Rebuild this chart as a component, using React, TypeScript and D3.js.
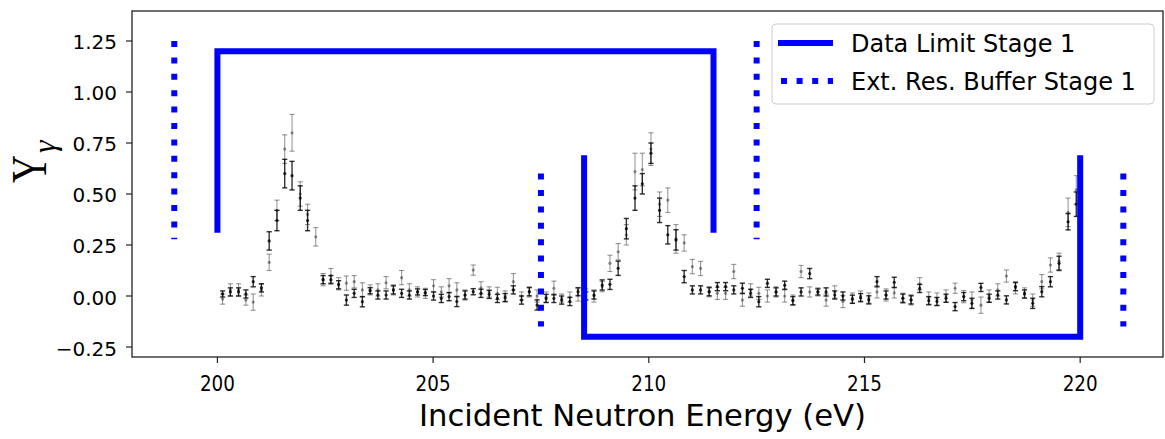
import React from 'react';
import * as d3 from 'd3';

// ---- data ----
const energies = [
  200.12, 200.30, 200.49, 200.66, 200.83, 201.02, 201.20, 201.38, 201.56, 201.73,
  201.92, 202.09, 202.28, 202.45, 202.63, 202.81, 202.99, 203.17, 203.36, 203.54,
  203.72, 203.91, 204.08, 204.27, 204.45, 204.64, 204.82, 205.01, 205.19, 205.37,
  205.55, 205.74, 205.93, 206.11, 206.30, 206.49, 206.67, 206.86, 207.05, 207.23,
  207.41, 207.62, 207.80, 207.98, 208.17, 208.36, 208.54, 208.73, 208.92, 209.10,
  209.29, 209.48, 209.68, 209.85, 210.05, 210.25, 210.44, 210.63, 210.82, 211.01,
  211.20, 211.40, 211.59, 211.78, 211.97, 212.17, 212.36, 212.55, 212.75, 212.95,
  213.15, 213.34, 213.53, 213.73, 213.92, 214.11, 214.31, 214.50, 214.72, 214.91,
  215.10, 215.29, 215.50, 215.69, 215.89, 216.08, 216.28, 216.49, 216.68, 216.89,
  217.10, 217.30, 217.49, 217.70, 217.89, 218.09, 218.29, 218.50, 218.71, 218.90,
  219.11, 219.31, 219.51, 219.72, 219.91,
];

// darker series
const yieldDark: (number | null)[] = [
  0.01, 0.02, 0.02, 0.01, 0.07, 0.04, 0.27, 0.37, 0.60, 0.59,
  0.48, 0.37, null, 0.08, 0.08, 0.055, -0.02, 0.013, -0.028, 0.026,
  0.005, 0.005, 0.03, 0.013, 0.005, 0.02, 0.017, 0.0, -0.012, -0.003,
  -0.027, 0.005, 0.021, 0.013, 0.008, -0.012, -0.008, 0.03, -0.02, 0.021,
  -0.044, -0.012, -0.012, -0.02, -0.027, 0.021, 0.0, 0.005, 0.054, 0.057,
  0.136, 0.33, 0.48, 0.55, 0.70, 0.42, 0.30, 0.275, 0.095, 0.03,
  0.03, 0.021, 0.046, 0.046, 0.03, 0.038, 0.013, -0.028, 0.062, 0.02,
  0.053, -0.023, 0.02, 0.11, 0.02, 0.02, 0.005, 0.0, -0.016, -0.008,
  -0.019, 0.07, 0.005, 0.067, -0.011, -0.019, 0.037, -0.023, -0.027, -0.011,
  -0.052, -0.003, -0.036, 0.042, -0.011, 0.005, -0.019, 0.046, 0.01, -0.036,
  0.021, 0.07, 0.16, 0.364, 0.45,
];
const errDark = [
  0.015, 0.02, 0.02, 0.02, 0.025, 0.02, 0.045, 0.05, 0.07, 0.07,
  0.06, 0.05, 0, 0.02, 0.02, 0.02, 0.025, 0.02, 0.025, 0.015,
  0.02, 0.02, 0.02, 0.02, 0.02, 0.015, 0.015, 0.02, 0.02, 0.02,
  0.025, 0.02, 0.015, 0.02, 0.02, 0.02, 0.02, 0.02, 0.02, 0.02,
  0.025, 0.02, 0.02, 0.02, 0.02, 0.02, 0.02, 0.02, 0.025, 0.025,
  0.035, 0.05, 0.06, 0.05, 0.05, 0.06, 0.045, 0.05, 0.03, 0.02,
  0.02, 0.02, 0.02, 0.02, 0.02, 0.025, 0.02, 0.025, 0.02, 0.02,
  0.02, 0.02, 0.02, 0.025, 0.015, 0.02, 0.02, 0.02, 0.02, 0.02,
  0.02, 0.025, 0.02, 0.025, 0.02, 0.02, 0.02, 0.02, 0.02, 0.02,
  0.02, 0.02, 0.025, 0.02, 0.02, 0.02, 0.02, 0.02, 0.02, 0.025,
  0.025, 0.025, 0.035, 0.04, 0.06,
];

// lighter series
const yieldLight = [
  -0.015, 0.03, 0.03, -0.02, -0.03, 0.03, 0.165, 0.42, 0.72, 0.80,
  0.50, 0.40, 0.29, 0.08, 0.10, 0.06, 0.063, 0.07, 0.03, 0.03,
  0.03, 0.065, 0.03, 0.09, 0.03, 0.02, 0.013, 0.05, 0.02, 0.05,
  0.03, 0.005, 0.127, 0.04, 0.02, 0.013, 0.0, 0.07, 0.0, 0.02,
  0.0, -0.005, 0.038, -0.01, -0.005, 0.005, 0.01, 0.0, 0.046, 0.16,
  0.217, 0.30, 0.61, 0.62, 0.72, 0.45, 0.47, 0.28, 0.26, 0.144,
  0.135, 0.021, 0.013, 0.013, 0.12, -0.02, 0.03, 0.013, 0.0, 0.02,
  0.0, -0.02, 0.12, 0.02, 0.02, -0.02, 0.02, -0.027, -0.01, 0.0,
  -0.01, 0.02, 0.005, 0.015, -0.011, -0.019, 0.06, -0.01, -0.015, 0.0,
  0.038, -0.003, -0.02, -0.045, 0.0, 0.03, 0.098, 0.04, 0.015, -0.02,
  0.07, 0.152, 0.17, 0.41, 0.52,
];
const errLight = [
  0.025, 0.03, 0.03, 0.025, 0.04, 0.03, 0.04, 0.05, 0.07, 0.09,
  0.06, 0.05, 0.045, 0.03, 0.035, 0.03, 0.035, 0.03, 0.035, 0.025,
  0.03, 0.03, 0.025, 0.035, 0.03, 0.025, 0.025, 0.03, 0.025, 0.035,
  0.035, 0.025, 0.025, 0.03, 0.025, 0.03, 0.025, 0.04, 0.02, 0.025,
  0.03, 0.025, 0.035, 0.02, 0.025, 0.03, 0.025, 0.03, 0.025, 0.04,
  0.04, 0.05, 0.09, 0.08, 0.08, 0.06, 0.06, 0.07, 0.04, 0.035,
  0.035, 0.025, 0.03, 0.03, 0.035, 0.03, 0.03, 0.03, 0.03, 0.025,
  0.03, 0.025, 0.03, 0.025, 0.02, 0.03, 0.03, 0.03, 0.025, 0.025,
  0.025, 0.03, 0.03, 0.025, 0.025, 0.025, 0.03, 0.03, 0.03, 0.03,
  0.025, 0.03, 0.04, 0.04, 0.03, 0.03, 0.03, 0.03, 0.025, 0.03,
  0.035, 0.035, 0.04, 0.07, 0.07,
];

// blue window markers: [energy, yield] vertices
const dataLimitWindowA: [number, number][] = [[200, 0.31], [200, 1.2], [211.5, 1.2], [211.5, 0.31]];
const dataLimitWindowB: [number, number][] = [[208.5, 0.69], [208.5, -0.2], [220, -0.2], [220, 0.69]];
const bufferLines: [number, number][][] = [
  [[199, 1.25], [199, 0.278]],
  [[212.5, 1.25], [212.5, 0.278]],
  [[207.5, 0.6], [207.5, -0.15]],
  [[221, 0.6], [221, -0.15]],
];

const xTicks = [200, 205, 210, 215, 220];
const yTicks = [-0.25, 0, 0.25, 0.5, 0.75, 1.0, 1.25];
const legendLabels = ['Data Limit Stage 1', 'Ext. Res. Buffer Stage 1'];

// ---- layout ----
const W = 1165;
const H = 439;
const L = 132, T = 11, R = 1163, B = 357;
const BLUE = '#0000ff';

export default function App() {
  const x = d3.scaleLinear().domain([198.02, 221.92]).range([L, R]);
  const y = d3.scaleLinear().domain([-0.299, 1.397]).range([B, T]);
  const line = d3.line<[number, number]>().x(d => x(d[0])).y(d => y(d[1]));
  const fmtY = (v: number) => d3.format('.2f')(v).replace('-', '\u2212');

  const renderSeries = (vals: (number | null)[], errs: number[], opacity: number, sw: number, key: string) => (
    <g key={key} stroke="#000" strokeOpacity={opacity} fill="#000" fillOpacity={opacity}>
      {energies.map((e, i) => {
        const v = vals[i];
        if (v === null || v === undefined) return null;
        const cx = x(e);
        const y1 = y(v - errs[i]);
        const y2 = y(v + errs[i]);
        return (
          <g key={i}>
            <line x1={cx} x2={cx} y1={y1} y2={y2} strokeWidth={sw} />
            <line x1={cx - 2.6} x2={cx + 2.6} y1={y1} y2={y1} strokeWidth={sw} />
            <line x1={cx - 2.6} x2={cx + 2.6} y1={y2} y2={y2} strokeWidth={sw} />
            <circle cx={cx} cy={y(v)} r={1.6} stroke="none" />
          </g>
        );
      })}
    </g>
  );

  return (
    <svg width={W} height={H} style={{ position: 'absolute', left: 0, top: 0, background: '#fff' }}
      xmlns="http://www.w3.org/2000/svg">
      <rect x={0} y={0} width={W} height={H} fill="#fff" />

      {/* data */}
      {renderSeries(yieldLight, errLight, 0.4, 1.1, 'light')}
      {renderSeries(yieldDark, errDark, 0.8, 1.4, 'dark')}

      {/* window lines */}
      <g fill="none" stroke={BLUE} strokeWidth={6}>
        <path d={line(dataLimitWindowA) || ''} strokeLinejoin="miter" />
        <path d={line(dataLimitWindowB) || ''} strokeLinejoin="miter" />
        {bufferLines.map((seg, i) => (
          <path key={i} d={line(seg) || ''} strokeDasharray="6,10.4" />
        ))}
      </g>

      {/* frame */}
      <rect x={L} y={T} width={R - L} height={B - T} fill="none" stroke="#222" strokeWidth={1.3} />

      {/* y axis */}
      <g fontFamily="'DejaVu Sans', sans-serif" fontSize={20} fill="#000">
        {yTicks.map(t => (
          <g key={t}>
            <line x1={L - 6} x2={L} y1={y(t)} y2={y(t)} stroke="#222" strokeWidth={1.2} />
            <text x={L - 15} y={y(t) + 8.5} textAnchor="end">{fmtY(t)}</text>
          </g>
        ))}
      </g>

      {/* x axis */}
      <g fontFamily="'Liberation Sans Narrow', 'DejaVu Sans Condensed', 'Liberation Sans', sans-serif" fill="#000">
        {xTicks.map(t => (
          <g key={t}>
            <line x1={x(t)} x2={x(t)} y1={B} y2={B + 6} stroke="#222" strokeWidth={1.2} />
            <text x={x(t)} y={391} fontSize={22} textAnchor="middle" textLength={35} lengthAdjust="spacingAndGlyphs">{t}</text>
          </g>
        ))}
        <text x={642.5} y={426} textAnchor="middle" fontSize={31} textLength={447} lengthAdjust="spacingAndGlyphs">
          Incident Neutron Energy (eV)
        </text>
      </g>

      {/* y label */}
      <g transform="translate(46,183) rotate(-90)" fontFamily="'Liberation Serif', 'DejaVu Serif', serif" fill="#000">
        <text x={0} y={0} fontSize={50} textLength={28} lengthAdjust="spacingAndGlyphs">Y</text>
        <text x={30} y={9} fontSize={32} fontStyle="italic">γ</text>
      </g>

      {/* legend */}
      <g>
        <rect x={772} y={24} width={382} height={80} rx={4} fill="#fff" fillOpacity={0.8} stroke="#cccccc" strokeWidth={1} />
        <line x1={778} x2={833} y1={43} y2={43} stroke={BLUE} strokeWidth={6} />
        <line x1={781} x2={833} y1={81} y2={81} stroke={BLUE} strokeWidth={6} strokeDasharray="6,9.6" />
        <g fontFamily="'DejaVu Sans', sans-serif" fontSize={24} fill="#000">
          <text x={851} y={52}>{legendLabels[0]}</text>
          <text x={851} y={90}>{legendLabels[1]}</text>
        </g>
      </g>
    </svg>
  );
}
